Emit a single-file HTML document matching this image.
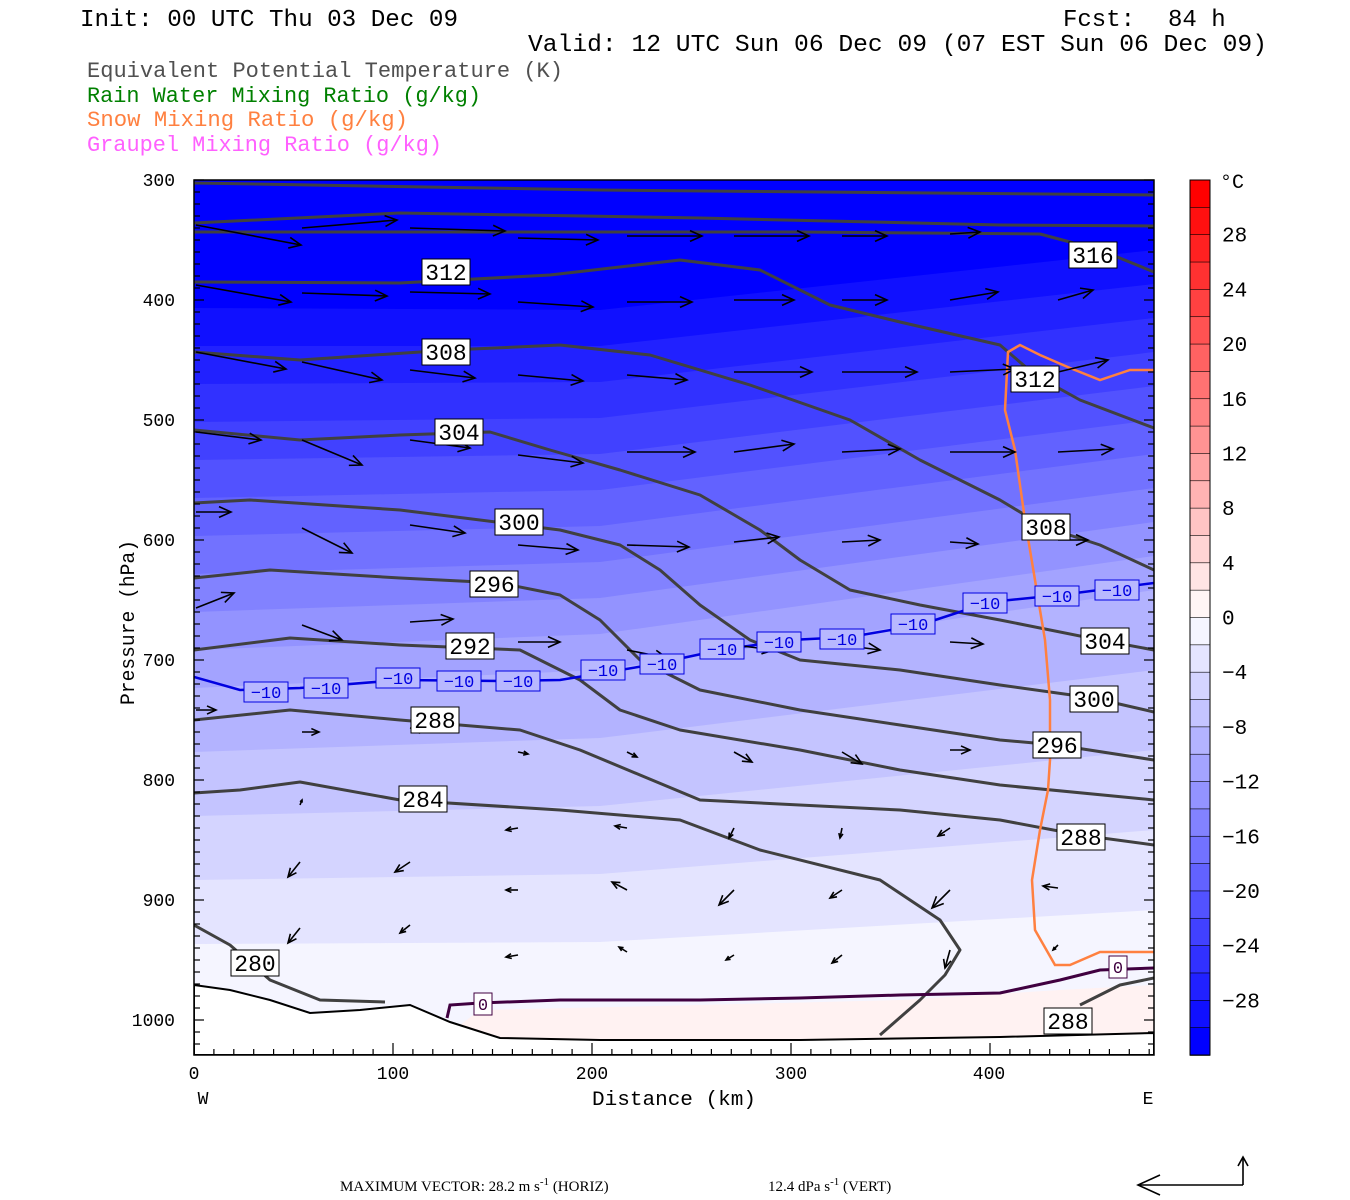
<!DOCTYPE html>
<html><head><meta charset="utf-8"><style>
html,body{margin:0;padding:0;background:#fff;}
svg{display:block;}
text{font-family:"Liberation Mono",monospace;}
text.sr{font-family:"Liberation Serif",serif;}
</style></head><body>
<svg id="s" width="1350" height="1200" xmlns="http://www.w3.org/2000/svg">
<defs><clipPath id="cp"><rect x="194" y="180" width="960" height="875"/></clipPath></defs>
<g id="bands" clip-path="url(#cp)"><rect x="194" y="180" width="960" height="875" fill="#0000ff"/></g>
<g clip-path="url(#cp)">
<path d="M440,1040 L480,1010 L700,1005 L900,1000 L1060,990 L1154,985 L1154,1040 Z" fill="#fff2f2"/>
<path d="M194,985 L230,990 L270,1000 L310,1013 L360,1010 L410,1005 L450,1022 L500,1038 L600,1040 L800,1040 L1000,1037 L1154,1033 L1154,1055 L194,1055 Z" fill="#fff" stroke="#000" stroke-width="2"/>
<g fill="none" stroke="#404040" stroke-width="3" stroke-linejoin="round">
<polyline points="194,183 600,190 1154,195"/>
<polyline points="194,223 400,213 700,218 1000,225 1154,226"/>
<polyline points="194,232 500,232 800,232 1040,234 1100,250 1154,272"/>
<polyline points="194,282 400,283 550,275 680,260 760,270 830,305 900,322 1000,345 1035,375 1080,400 1154,428"/>
<polyline points="194,352 300,360 450,350 560,345 650,355 750,385 850,420 920,460 1000,500 1045,527 1100,545 1154,570"/>
<polyline points="194,430 300,440 400,435 490,432 550,450 620,470 700,495 760,530 800,560 850,590 920,605 1000,620 1100,640 1154,650"/>
<polyline points="194,503 250,500 400,510 560,530 620,545 660,570 700,605 750,640 800,660 900,670 1000,685 1093,698 1154,712"/>
<polyline points="194,578 270,570 400,578 500,583 560,595 600,620 640,660 700,690 800,710 900,725 1000,740 1057,745 1154,760"/>
<polyline points="194,650 290,638 400,645 520,650 580,680 620,710 680,730 800,750 900,770 1000,785 1154,800"/>
<polyline points="194,720 290,710 400,720 520,730 580,750 640,775 700,800 900,810 1000,820 1080,835 1154,845"/>
<polyline points="194,793 240,790 300,782 400,800 560,810 680,820 760,850 880,880 940,920 960,950 945,975 920,1000 880,1035"/>
<polyline points="194,925 230,945 270,980 320,1000 385,1002"/>
<polyline points="1080,1005 1120,985 1154,978"/>
</g>
<polyline fill="none" stroke="#0000e0" stroke-width="2.5" points="194,677 240,690 300,688 400,680 500,681 560,680 650,665 720,650 790,640 850,637 920,625 990,602 1060,595 1154,583"/>
<polyline fill="none" stroke="#400040" stroke-width="3" points="447,1018 450,1005 480,1003 560,1000 700,1000 800,998 900,995 1000,993 1060,980 1100,970 1154,968"/>
<polyline fill="none" stroke="#ff8040" stroke-width="2.5" points="1154,370 1130,370 1100,380 1070,368 1040,355 1020,345 1008,352 1005,410 1015,450 1025,520 1035,580 1045,640 1050,700 1050,760 1048,790 1040,830 1032,880 1035,930 1055,965 1070,965 1100,952 1154,952"/>
<g id="arrows" stroke="#000" stroke-width="1.6" fill="none"></g>
</g>
<g id="labels" font-size="23"></g>
<rect x="194" y="180" width="960" height="875" fill="none" stroke="#000" stroke-width="1.5"/>
<g id="ticks" stroke="#000" stroke-width="1.2"></g>
<g font-size="18" text-anchor="end">
<text x="175" y="186">300</text><text x="175" y="306">400</text><text x="175" y="426">500</text><text x="175" y="546">600</text><text x="175" y="666">700</text><text x="175" y="786">800</text><text x="175" y="906">900</text><text x="175" y="1026">1000</text>
</g>
<g font-size="18" text-anchor="middle">
<text x="194" y="1079">0</text><text x="393" y="1079">100</text><text x="592" y="1079">200</text><text x="791" y="1079">300</text><text x="989" y="1079">400</text>
<text x="203" y="1104">W</text><text x="1148" y="1104">E</text>
</g>
<text x="592" y="1105" font-size="20" textLength="164" lengthAdjust="spacingAndGlyphs">Distance (km)</text>
<text transform="translate(134,705) rotate(-90)" font-size="20" textLength="165" lengthAdjust="spacingAndGlyphs">Pressure (hPa)</text>
<text x="80" y="26" font-size="24" fill="#000" textLength="378" lengthAdjust="spacingAndGlyphs">Init: 00 UTC Thu 03 Dec 09</text>
<text x="1063" y="26" font-size="24" fill="#000">Fcst:</text>
<text x="1168" y="26" font-size="24" fill="#000">84 h</text>
<text x="528" y="51" font-size="24" fill="#000" textLength="739" lengthAdjust="spacingAndGlyphs">Valid: 12 UTC Sun 06 Dec 09 (07 EST Sun 06 Dec 09)</text>
<text x="87" y="77" font-size="22" fill="#505050" textLength="476" lengthAdjust="spacingAndGlyphs">Equivalent Potential Temperature (K)</text>
<text x="87" y="102" font-size="22" fill="#008000" textLength="394" lengthAdjust="spacingAndGlyphs">Rain Water Mixing Ratio (g/kg)</text>
<text x="87" y="126" font-size="22" fill="#ff8040" textLength="321" lengthAdjust="spacingAndGlyphs">Snow Mixing Ratio (g/kg)</text>
<text x="87" y="151" font-size="22" fill="#ff60ff" textLength="355" lengthAdjust="spacingAndGlyphs">Graupel Mixing Ratio (g/kg)</text>
<g id="cbar"></g>
<text class="sr" x="340" y="1191" font-size="15">MAXIMUM VECTOR:  28.2 m s<tspan dy="-6" font-size="11">-1</tspan><tspan dy="6"> (HORIZ)</tspan></text>
<text class="sr" x="768" y="1191" font-size="15">12.4 dPa s<tspan dy="-6" font-size="11">-1</tspan><tspan dy="6"> (VERT)</tspan></text>
<g stroke="#000" stroke-width="1.6" fill="none">
<polyline points="1243,1185 1138,1185"/><polyline points="1160,1175 1138,1185 1160,1195"/>
<polyline points="1243,1185 1243,1157"/><polyline points="1238,1166 1243,1157 1248,1166"/>
</g>
</svg>
<script>
var NS="http://www.w3.org/2000/svg";
function el(p,t,a,txt){var e=document.createElementNS(NS,t);for(var k in a)e.setAttribute(k,a[k]);if(txt!=null)e.textContent=txt;document.getElementById(p).appendChild(e);return e;}
function yT(T,which){
 if(which==0) return T>=-10?688+(T+10)*32:688+(T+10)*19;
 if(which==1) return T>=-10?670+(T+10)*34:670+(T+10)*18;
 return T>=-10?590+(T+10)*40:590+(T+10)*17;}
for(var T=-30;T<=-2;T+=2){
 var k=(T+32)/2, v=Math.round(k*16.3);
 var pts="194,"+yT(T,0)+" 600,"+yT(T,1)+" 1154,"+yT(T,2)+" 1154,1055 194,1055";
 el("bands","polygon",{points:pts,fill:"rgb("+v+","+v+",255)"});}
for(var i=0;i<32;i++){
 var y=180+i*875/32, Tb=30-2*i, c;
 if(Tb>=0){var v=Math.round((15-Tb/2)*16.3);c="rgb(255,"+v+","+v+")";}
 else{var v=Math.round(((Tb+32)/2)*16.3);c="rgb("+v+","+v+",255)";}
 el("cbar","rect",{x:1190,y:y,width:20,height:875/32+0.5,fill:c,stroke:"#000","stroke-width":0.6});}
el("cbar","rect",{x:1190,y:180,width:20,height:875,fill:"none",stroke:"#000","stroke-width":1});
el("cbar","text",{x:1220,y:188,"font-size":20},"°C");
for(var t=28;t>=-28;t-=4){var y=180+(32-t)/2*875/32;
 el("cbar","text",{x:1222,y:y+7,"font-size":21},(t<0?"\u2212":"")+Math.abs(t));}
for(var p=300;p<=1050;p+=10){var y=180+(p-300)*1.2;if(y>1055)break;var L=(p%100==0)?10:6;
 el("ticks","line",{x1:194,y1:y,x2:194+L,y2:y});el("ticks","line",{x1:1154,y1:y,x2:1154-L,y2:y});}
for(var d=0;d<=480;d+=10){var x=194+d*1.99;var L=(d%100==0)?12:6;el("ticks","line",{x1:x,y1:1055,x2:x,y2:1055-L});}
var labs=[[446,272,"312"],[446,352,"308"],[459,432,"304"],[519,522,"300"],[494,584,"296"],[470,646,"292"],[435,720,"288"],[423,799,"284"],[255,963,"280"],[1093,255,"316"],[1035,379,"312"],[1046,527,"308"],[1105,641,"304"],[1094,699,"300"],[1057,745,"296"],[1081,837,"288"],[1068,1021,"288"]];
labs.forEach(function(l){el("labels","rect",{x:l[0]-24,y:l[1]-13,width:48,height:26,fill:"#fff",stroke:"#000","stroke-width":1});
 el("labels","text",{x:l[0],y:l[1]+8,"text-anchor":"middle","font-size":23},l[2]);});
var bl=[[266,692],[326,688],[398,678],[459,681],[518,681],[603,670],[662,664],[722,649],[779,642],[842,639],[913,624],[985,603],[1057,596],[1117,590]];
bl.forEach(function(l){el("labels","rect",{x:l[0]-22,y:l[1]-10,width:44,height:20,fill:"#b8b8ff",stroke:"#0000e0","stroke-width":1});
 el("labels","text",{x:l[0],y:l[1]+6,"text-anchor":"middle","font-size":17,fill:"#0000e0"},"\u221210");});
[[483,1004],[1118,967]].forEach(function(l){el("labels","rect",{x:l[0]-9,y:l[1]-11,width:18,height:22,fill:"#fff",stroke:"#400040"});
 el("labels","text",{x:l[0],y:l[1]+6,"text-anchor":"middle","font-size":17,fill:"#400040"},"0");});
var A=[[196,225,105,20],[302,228,95,-8],[410,228,95,3],[518,238,80,2],[627,236,75,0],[734,236,75,0],[842,236,45,0],[950,234,30,-2],
[196,285,95,17],[302,293,85,3],[410,292,80,2],[518,302,75,5],[627,302,65,0],[734,300,60,0],[842,300,45,0],[950,300,48,-8],[1058,300,35,-10],
[196,352,90,17],[302,362,80,18],[410,370,65,8],[518,375,65,6],[627,375,60,5],[734,372,78,0],[842,372,75,0],[950,372,65,-3],[1058,372,50,-12],
[196,432,65,8],[302,440,60,25],[410,440,60,8],[518,455,65,8],[627,452,68,0],[734,452,60,-8],[842,452,58,-3],[950,452,65,0],[1058,452,55,-3],
[196,512,35,0],[302,528,50,25],[410,525,55,8],[518,545,60,5],[627,545,62,2],[734,542,45,-5],[842,542,38,-2],[950,542,28,2],[1058,540,30,0],
[196,608,38,-15],[302,625,40,15],[410,622,43,-3],[518,642,42,0],[627,650,40,8],[734,645,40,5],[842,645,38,5],[950,642,33,2],
[196,710,20,0],[302,732,17,0],[410,728,17,3],[518,752,10,2],[627,752,10,5],[734,752,18,10],[842,752,20,12],[950,750,20,0],
[300,805,2,-5],[410,800,-5,5],[518,828,-12,2],[627,828,-12,-2],[734,828,-5,10],[842,828,-2,10],[950,828,-12,8],[1058,888,-15,-2],
[300,862,-12,15],[410,862,-15,10],[518,890,-12,0],[627,890,-15,-8],[734,890,-15,15],[842,890,-12,8],[950,890,-18,18],
[300,928,-12,15],[410,925,-10,8],[518,955,-12,2],[627,952,-8,-5],[734,955,-8,5],[842,955,-10,8],[950,950,-5,18],[1058,945,-5,5]];
A.forEach(function(a){var x1=a[0],y1=a[1],x2=a[0]+a[2],y2=a[1]+a[3];var L=Math.hypot(a[2],a[3]);if(L<1)return;
 var ux=a[2]/L,uy=a[3]/L,h=Math.min(12,L*0.45);
 el("arrows","line",{x1:x1,y1:y1,x2:x2,y2:y2});
 el("arrows","polyline",{points:(x2-h*ux-h*0.45*uy)+","+(y2-h*uy+h*0.45*ux)+" "+x2+","+y2+" "+(x2-h*ux+h*0.45*uy)+","+(y2-h*uy-h*0.45*ux)});});
</script>
</body></html>
